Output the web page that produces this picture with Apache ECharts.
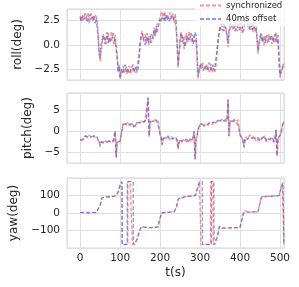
<!DOCTYPE html>
<html><head><meta charset="utf-8">
<script src="https://cdn.jsdelivr.net/npm/echarts@6/dist/echarts.min.js"></script>
<style>html,body{margin:0;padding:0;background:#fff}#c{width:299px;height:287px}</style>
</head><body><div id="c"></div>
<script>
// sample times (s) for roll / pitch
const sampleTimes = [0,2.5,5,7.5,10,12.5,15,17.5,20,22.5,25,27.5,30,32.5,35,37.5,40,42.5,45,47.5,50,52.5,55,57.5,60,62.5,65,67.5,70,72.5,75,77.5,80,82.5,85,87.5,90,92.5,95,97.5,100,102.5,105,107.5,110,112.5,115,117.5,120,122.5,125,127.5,130,132.5,135,137.5,140,142.5,145,147.5,150,152.5,155,157.5,160,162.5,165,167.5,170,172.5,175,177.5,180,182.5,185,187.5,190,192.5,195,197.5,200,202.5,205,207.5,210,212.5,215,217.5,220,222.5,225,227.5,230,232.5,235,237.5,240,242.5,245,247.5,250,252.5,255,257.5,260,262.5,265,267.5,270,272.5,275,277.5,280,282.5,285,287.5,290,292.5,295,297.5,300,302.5,305,307.5,310,312.5,315,317.5,320,322.5,325,327.5,330,332.5,335,337.5,340,342.5,345,347.5,350,352.5,355,357.5,360,362.5,365,367.5,370,372.5,375,377.5,380,382.5,385,387.5,390,392.5,395,397.5,400,402.5,405,407.5,410,412.5,415,417.5,420,422.5,425,427.5,430,432.5,435,437.5,440,442.5,445,447.5,450,452.5,455,457.5,460,462.5,465,467.5,470,472.5,475,477.5,480,482.5,485,487.5,490,492.5,495,497.5,500,502.5,505,507.5,510];

const rollSync = [2.9,2.5,2.7,3.1,3.2,2.6,2.4,3.0,3.3,2.2,2.8,3.2,3.0,2.4,2.5,3.1,2.9,2.6,1.0,-0.6,-1.7,-0.5,0.3,1.1,0.9,0.4,0.1,0.9,1.2,0.2,0.5,1.3,1.0,0.5,0.0,1.0,0.8,-1.0,-2.8,-2.2,-3.5,-2.8,-2.4,-2.1,-2.8,-2.5,-2.2,-3.0,-2.8,-2.1,-2.4,-2.9,-3.0,-2.3,-2.1,-2.8,-2.6,-2.2,-2.0,-1.0,0.3,1.0,1.4,0.5,0.6,1.1,0.1,0.6,0.9,0.0,0.3,1.1,1.0,0.6,1.8,1.0,1.4,2.1,2.0,2.4,2.9,3.1,3.4,2.8,2.5,3.3,3.1,2.5,2.7,3.0,3.3,2.6,2.9,3.2,2.3,2.6,2.8,0.5,-2.3,-0.8,0.4,1.3,1.0,0.3,-0.4,0.9,1.2,0.2,0.5,1.4,1.1,0.5,0.2,1.0,1.2,0.3,0.6,-1.2,-3.4,-2.5,-2.0,-2.4,-2.6,-1.8,-1.9,-2.5,-2.7,-2.0,-2.1,-2.8,-2.5,-1.9,-2.8,-2.4,-2.2,-2.7,-2.0,-0.8,0.6,1.3,1.9,1.5,2.3,1.8,1.4,2.1,2.2,1.0,-0.2,1.2,1.6,2.3,2.0,1.5,1.3,2.2,2.3,1.4,1.6,2.4,2.1,1.6,1.2,2.0,2.3,2.8,3.3,2.4,1.9,2.3,1.5,1.9,2.2,1.3,1.6,2.3,2.0,0.8,-0.9,0.0,0.6,1.2,1.1,0.4,0.0,1.0,0.9,0.2,0.3,1.1,1.2,0.4,0.1,0.9,0.8,0.2,1.3,0.7,0.4,-1.5,-3.3,-2.8,-2.3,-2.0,-1.8];
const rollOffset = [2.8,2.4,2.9,2.5,2.6,3.2,3.1,2.3,2.7,2.9,3.1,2.6,2.4,3.0,2.9,2.2,2.7,2.9,0.8,-0.9,-1.4,0.0,0.5,1.0,0.6,0.1,1.0,1.3,0.2,0.7,0.9,0.3,0.4,1.2,1.1,0.4,0.3,-1.3,-2.6,-2.0,-3.3,-2.5,-2.7,-2.9,-2.3,-2.0,-2.7,-2.4,-2.2,-2.9,-2.8,-2.3,-2.4,-2.0,-2.7,-2.5,-2.2,-2.8,-2.4,-1.2,0.1,0.8,1.2,0.9,0.3,0.0,0.8,1.2,0.2,0.6,0.9,0.2,0.5,1.2,1.5,0.9,1.9,1.3,1.7,2.2,2.6,2.3,2.9,2.6,3.2,2.4,2.6,3.1,3.0,2.4,2.6,3.0,3.2,2.5,2.7,3.1,2.5,0.0,-2.0,-1.1,0.6,1.2,0.3,0.8,1.0,-0.2,0.4,1.0,1.1,0.4,0.3,1.2,0.9,0.1,0.5,1.3,1.0,-1.0,-3.2,-2.6,-2.3,-1.8,-2.0,-2.6,-2.5,-2.1,-2.2,-2.6,-2.6,-1.8,-2.0,-2.5,-2.4,-2.0,-2.6,-2.1,-2.3,-0.5,0.3,1.1,1.7,2.1,1.8,1.4,2.2,2.0,1.5,0.8,0.1,1.5,2.1,1.8,1.6,2.2,2.1,1.4,1.5,2.0,2.2,1.5,1.7,2.3,2.0,1.3,1.6,2.3,2.9,2.1,2.2,1.6,1.8,2.2,1.5,2.0,2.1,1.4,1.8,0.6,-0.6,0.2,0.8,1.1,0.3,0.9,1.0,0.2,0.4,1.0,1.1,0.3,0.5,1.0,0.9,0.3,0.2,1.1,0.7,0.2,1.0,-1.2,-3.1,-2.8,-2.6,-2.2,-1.9];

const pitchSync = [-2.2,-1.9,-2.4,-2.0,-1.9,-1.2,-0.9,-1.3,-1.5,-0.9,-0.8,-1.4,-1.6,-1.1,-1.0,-1.5,-1.8,-1.3,-2.1,-2.6,-3.7,-2.6,-2.3,-2.7,-2.9,-2.3,-2.1,-2.6,-2.8,-2.2,-2.3,-2.8,-3.0,-2.4,-2.2,0.1,-6.3,-2.5,-2.8,-2.2,-2.5,-0.8,0.6,1.8,2.2,1.9,1.6,2.1,2.4,1.8,1.3,1.6,2.0,1.4,0.9,1.3,1.7,2.2,2.4,2.1,2.0,2.5,2.7,2.3,2.2,2.7,2.8,2.5,8.2,-1.3,2.4,2.8,2.7,2.4,2.2,2.7,2.9,2.5,2.4,0.8,-0.9,-1.6,-3.4,-1.8,-1.2,-1.6,-1.8,-1.2,-0.9,-1.5,-2.0,-1.6,-1.3,-1.8,-2.2,-1.7,-1.5,-2.3,-4.3,-2.4,-1.9,-2.3,-2.6,-2.0,-1.6,-2.1,-2.3,-1.9,-2.8,-2.2,-1.8,-2.2,-2.4,-2.0,0.0,-6.8,-1.9,-1.1,0.4,1.2,1.6,1.9,2.1,1.6,1.2,1.7,2.0,1.5,1.4,2.0,2.3,1.8,1.6,2.2,2.5,2.1,2.0,2.5,2.8,2.3,2.3,2.7,2.9,2.4,2.4,2.8,3.0,2.5,7.7,-1.3,2.5,2.9,2.7,2.4,2.9,2.6,2.3,2.7,2.8,0.9,-1.0,-1.4,-1.6,-2.4,-4.0,-1.9,-1.3,-1.8,-2.1,-1.4,-0.8,-1.3,-1.8,-1.4,-1.1,-1.7,-2.3,-1.8,-1.4,-1.9,-2.5,-1.9,-1.6,-2.0,-1.0,-1.6,-2.5,-1.8,-1.5,-2.2,-2.1,-1.6,-1.2,-1.9,-2.7,-1.8,0.4,-6.0,-1.9,-1.5,-1.9,-0.4,1.0,2.0,2.4];
const pitchOffset = [-2.1,-2.0,-2.2,-1.8,-1.7,-1.1,-1.1,-1.2,-1.3,-1.0,-1.0,-1.3,-1.4,-1.0,-1.2,-1.4,-1.6,-1.4,-2.0,-2.5,-3.3,-2.5,-2.4,-2.5,-2.6,-2.2,-2.3,-2.5,-2.5,-2.3,-2.4,-2.6,-2.7,-2.3,-2.3,0.0,-6.2,-2.4,-2.6,-2.3,-2.4,-0.9,0.4,1.7,2.0,1.9,1.8,2.0,2.1,1.7,1.5,1.7,1.8,1.4,1.1,1.4,1.6,2.1,2.2,2.0,2.1,2.4,2.5,2.3,2.3,2.6,2.6,2.4,8.0,-1.1,2.3,2.6,2.5,2.4,2.4,2.6,2.7,2.4,2.3,0.7,-0.8,-1.5,-3.1,-1.7,-1.3,-1.5,-1.6,-1.3,-1.1,-1.5,-1.8,-1.5,-1.4,-1.7,-1.9,-1.6,-1.6,-2.2,-4.0,-2.3,-2.0,-2.2,-2.3,-1.9,-1.8,-2.0,-2.1,-2.0,-2.5,-2.1,-1.9,-2.1,-2.2,-2.0,0.1,-6.7,-1.8,-1.0,0.3,1.1,1.5,1.8,1.9,1.6,1.4,1.6,1.8,1.6,1.6,1.9,2.1,1.9,1.8,2.1,2.3,2.1,2.1,2.4,2.6,2.4,2.4,2.6,2.7,2.5,2.5,2.7,2.8,2.5,7.6,-1.2,2.4,2.7,2.6,2.5,2.7,2.5,2.4,2.6,2.6,0.8,-0.9,-1.3,-1.4,-2.2,-3.7,-1.8,-1.4,-1.7,-1.9,-1.4,-1.0,-1.4,-1.6,-1.4,-1.3,-1.6,-2.0,-1.7,-1.5,-1.8,-2.2,-1.8,-1.7,-1.9,-1.2,-1.6,-2.2,-1.7,-1.6,-2.0,-1.9,-1.6,-1.4,-1.8,-2.4,-1.7,0.3,-5.9,-1.8,-1.4,-1.8,-0.5,0.9,1.9,2.3];

const yawSyncTimes = [0,10,20,30,40,45,50,55,60,70,80,90,95,100,104,104.5,110,119,119.5,125,130,130.5,137,142,147,152,157,170,185,195,198,203,208,220,235,240,245,250,265,280,288,293,298,302,302.5,315,326,326.5,332,332.5,338,343,348,352,356,370,390,400,404,408,412,416,430,445,449,453,460,475,490,497,502,506,509,509.5];
const yawSync = [3,2,4,1,3,5,45,88,90,91,93,97,120,160,178,-178,-179,-178,179,179,178,-179,-178,-150,-110,-78,-85,-84,-82,-80,-40,0,4,5,6,30,80,91,93,95,100,140,175,179,-178,-179,-178,179,179,-179,-177,-130,-76,-80,-86,-85,-84,-82,-40,0,12,3,5,6,50,90,93,94,96,98,140,170,179,-179];
const yawOffsetTimes = [0,10,20,30,40,45,50,55,60,70,80,90,95,100,105,105.5,110,117.5,118,125,132.5,133,138,143,148,153,158,170,185,195,199,204,209,220,235,241,246,251,265,280,289,294,299,305.5,306,315,328,328.5,334.5,335,339,344,349,353,357,370,390,400,405,409,413,417,430,445,450,454,460,475,490,498,503,507,509.5,510];
const yawOffset = [2,4,1,3,2,4,43,86,89,92,92,98,118,158,177,-177,-178,-177,178,178,177,-178,-177,-148,-108,-77,-84,-83,-81,-79,-38,1,5,4,7,32,81,90,94,96,101,142,176,179,-177,-178,-177,178,178,-178,-176,-128,-75,-79,-85,-84,-83,-81,-38,1,11,4,6,7,52,91,92,95,97,99,142,171,179,-178];

const seriesNames = ['synchronized', '40ms offset'];
const panelNames = ['roll(deg)', 'pitch(deg)', 'yaw(deg)'];
const xTickStep = 100;
const yTickSteps = [2.5, 5, 100];
const yDecimals = [1, 0, 0];

const FONT = 'DejaVu Sans';
const TXT = '#262626';
const GRIDC = '#e0e0e0';
const RED = 'rgba(255,60,60,0.55)';
const BLUE = 'rgba(70,90,200,0.6)';

function pairs(ts, vs) { return ts.map((t, i) => [t, vs[i]]); }
function tickFmt(step, dec) {
  return function (v) {
    const r = v / step;
    if (Math.abs(r - Math.round(r)) > 1e-6) return '';
    const s = Math.abs(v).toFixed(dec);
    return (v < -1e-9 ? '\u2212' : '') + s;
  };
}

const gridBoxes = [
  { top: 9, height: 71 },
  { top: 93, height: 70 },
  { top: 178, height: 70 }
];
const yRanges = [[-3.55, 3.65], [-7.6, 9.2], [-198, 198]];
const nameGaps = [36, 25, 40];
const lineWidths = [1.5, 1.5, 1.3];

const grids = gridBoxes.map(b => ({
  left: 67, width: 217, top: b.top, height: b.height,
  show: true, borderColor: '#d4d4d4', borderWidth: 1, backgroundColor: '#fff',
  containLabel: false
}));

const xAxes = [0, 1, 2].map(i => ({
  type: 'value', gridIndex: i, min: -33, max: 510,
  minInterval: xTickStep, maxInterval: xTickStep,
  axisLine: { show: false }, axisTick: { show: false },
  splitLine: { show: true, lineStyle: { color: GRIDC, width: 1 } },
  axisLabel: {
    show: i === 2, margin: 5, fontSize: 10.5, color: TXT, fontFamily: FONT,
    formatter: tickFmt(xTickStep, 0)
  },
  name: i === 2 ? 't(s)' : '', nameLocation: 'middle', nameGap: 19,
  nameTextStyle: { fontSize: 12, color: TXT, fontFamily: FONT }
}));

const yAxes = [0, 1, 2].map(i => ({
  type: 'value', gridIndex: i, min: yRanges[i][0], max: yRanges[i][1],
  minInterval: yTickSteps[i], maxInterval: yTickSteps[i],
  axisLine: { show: false }, axisTick: { show: false },
  splitLine: { show: true, lineStyle: { color: GRIDC, width: 1 } },
  axisLabel: { margin: 7, fontSize: 10.5, color: TXT, fontFamily: FONT, formatter: tickFmt(yTickSteps[i], yDecimals[i]) },
  name: panelNames[i], nameLocation: 'middle', nameRotate: 90, nameGap: nameGaps[i],
  nameTextStyle: { fontSize: 12, color: TXT, fontFamily: FONT }
}));

function mk(name, data, color, gi, z) {
  return {
    name, type: 'line', xAxisIndex: gi, yAxisIndex: gi, data,
    symbol: 'none', showSymbol: false, silent: true, animation: false, z,
    lineStyle: { color, width: lineWidths[gi], type: [4, 2] },
    itemStyle: { color }
  };
}

const series = [
  mk(seriesNames[0], pairs(sampleTimes, rollSync), RED, 0, 2),
  mk(seriesNames[1], pairs(sampleTimes, rollOffset), BLUE, 0, 3),
  mk(seriesNames[0], pairs(sampleTimes, pitchSync), RED, 1, 2),
  mk(seriesNames[1], pairs(sampleTimes, pitchOffset), BLUE, 1, 3),
  mk(seriesNames[0], pairs(yawSyncTimes, yawSync), RED, 2, 2),
  mk(seriesNames[1], pairs(yawOffsetTimes, yawOffset), BLUE, 2, 3)
];

const chart = echarts.init(document.getElementById('c'), null, { renderer: 'canvas' });
chart.setOption({
  animation: false,
  backgroundColor: '#fff',
  grid: grids,
  xAxis: xAxes,
  yAxis: yAxes,
  legend: {
    orient: 'vertical', left: 195, top: 0, padding: [1, 4, 3, 4],
    itemGap: 4.5, itemWidth: 21, itemHeight: 10,
    backgroundColor: 'rgba(255,255,255,0.75)', selectedMode: false, z: 10,
    textStyle: { fontSize: 8.5, color: TXT, fontFamily: FONT },
    data: seriesNames.map(n => ({ name: n, itemStyle: { opacity: 0 } }))
  },
  series
});
</script></body></html>
